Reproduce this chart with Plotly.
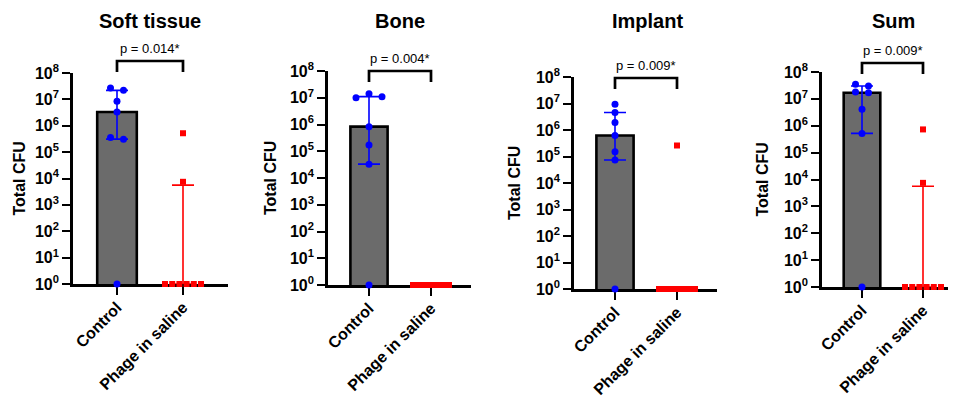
import numpy as np
import plotly.graph_objects as go

# ---------------- data ----------------
panel_titles = ["Soft tissue", "Bone", "Implant", "Sum"]
categories = ["Control", "Phage in saline"]
p_labels = ["p = 0.014*", "p = 0.004*", "p = 0.009*", "p = 0.009*"]
y_tickvals = [1, 1e1, 1e2, 1e3, 1e4, 1e5, 1e6, 1e7, 1e8]
y_ticktext = ["10<sup>%d</sup>" % i for i in range(9)]
y_title = "Total CFU"

soft_control = [2.7e7, 2.2e7, 8.5e6, 3.3e6, 3.6e5, 3.1e5, 1]
soft_phage = [5.2e5, 7.5e3, 1, 1, 1, 1, 1, 1]
bone_control = [1.4e7, 1.1e7, 1.0e7, 8.3e5, 1.7e5, 3.3e4, 1]
bone_phage = [1, 1, 1, 1, 1, 1, 1, 1]
implant_control = [9.3e6, 4.6e6, 1.9e6, 6.2e5, 1.5e5, 7.4e4, 1]
implant_phage = [2.6e5, 1, 1, 1, 1, 1, 1, 1, 1]
sum_control = [3.5e7, 3.0e7, 1.8e7, 1.7e7, 4.1e6, 5.2e5, 1]
sum_phage = [7.3e5, 7.5e3, 1, 1, 1, 1, 1, 1]

groups = [
    (soft_control, soft_phage),
    (bone_control, bone_phage),
    (implant_control, implant_phage),
    (sum_control, sum_phage),
]

# ---------------- layout (pixels, page coordinates) ----------------
PAGE_OFF = 8            # default body margin of the html page
W, H = 956 - PAGE_OFF, 398 - PAGE_OFF
panel_x = [(73, 228), (328, 471), (574, 717), (822, 956)]
panel_y = [(73, 284), (71, 285), (77, 289), (72, 287)]
cat_px = [(117, 183), (369, 431), (615, 677), (862, 923)]
title_px = [150, 400, 647, 893]
title_y = 21
ytitle_px = [19, 270, 515, 762]
bracket_px = [12, 0, -1, 9]   # bracket height above axis top (px)
leg_px = 11

FONT = "Liberation Sans, Arial, sans-serif"
colors = ["#0000ff", "#ff0000"]
symbols = ["circle", "square"]
msize = [7, 6]


def px2x(px):
    return (px - PAGE_OFF) / W


def px2y(py):
    return 1 - (py - PAGE_OFF) / H


def swarm(values, px_dec, px_cat):
    vals = np.asarray(values, dtype=float)
    lv = np.log10(vals)
    order = np.argsort(-lv, kind="stable")
    rows = []
    for i in order:
        if rows and (lv[rows[-1][0]] - lv[i]) * px_dec <= 5:
            rows[-1].append(i)
        else:
            rows.append([i])
    off = np.zeros(len(vals))
    for row in rows:
        k = len(row)
        if k == 1:
            continue
        step = min(13.0, 36.0 / (k - 1))
        slots = [(j - (k - 1) / 2) * step for j in range(k)]
        slots = sorted(slots, key=lambda o: (abs(o), -o if k % 2 else o))
        for idx, s in zip(row, slots):
            off[idx] = s / px_cat
    return off


fig = go.Figure()
layout = dict(
    width=W, height=H, margin=dict(l=0, r=0, t=0, b=0, autoexpand=False),
    paper_bgcolor="white", plot_bgcolor="white", showlegend=False,
    font=dict(family=FONT, color="black"),
)
shapes, annotations = [], []

for p in range(4):
    n = p + 1
    xa = "x" if n == 1 else "x%d" % n
    ya = "y" if n == 1 else "y%d" % n
    x0, x1 = panel_x[p]
    yt, yb = panel_y[p]
    c0, c1 = cat_px[p]
    px_cat = c1 - c0
    px_dec = (yb - yt) / 8.0
    rng = [(x0 - c0) / px_cat, (x1 - c0) / px_cat]

    stats = []
    for g in groups[p]:
        q1, med, q3 = np.percentile(np.asarray(g, float), [25, 50, 75], method="weibull")
        stats.append((q1, med, q3))

    # bars (median)
    fig.add_trace(go.Bar(
        x=[0, 1], y=[s[1] for s in stats], width=0.6,
        marker=dict(color="#6b6b6b", line=dict(color="black", width=[2.6, 0])),
        xaxis=xa, yaxis=ya, hoverinfo="skip",
    ))
    # error bars (interquartile range)
    for gi, (q1, med, q3) in enumerate(stats):
        fig.add_trace(go.Scatter(
            x=[gi], y=[med], mode="markers",
            marker=dict(size=1, color="rgba(0,0,0,0)"),
            error_y=dict(type="data", symmetric=False, array=[q3 - med],
                         arrayminus=[med - q1], color=colors[gi],
                         thickness=1.6, width=11),
            xaxis=xa, yaxis=ya, cliponaxis=False, hoverinfo="skip",
        ))
    # individual points
    for gi, g in enumerate(groups[p]):
        off = swarm(g, px_dec, px_cat)
        fig.add_trace(go.Scatter(
            x=gi + off, y=g, mode="markers",
            marker=dict(symbol=symbols[gi], size=msize[gi], color=colors[gi],
                        line=dict(width=0)),
            xaxis=xa, yaxis=ya, cliponaxis=False,
        ))

    dom_x = [px2x(x0), min(px2x(x1), 1.0)]
    dom_y = [px2y(yb), px2y(yt)]
    xkey = "xaxis" if n == 1 else "xaxis%d" % n
    ykey = "yaxis" if n == 1 else "yaxis%d" % n
    layout[xkey] = dict(
        domain=dom_x, range=rng, anchor=ya, showgrid=False, zeroline=False,
        showline=True, linecolor="black", linewidth=2.6,
        ticks="outside", ticklen=8, tickwidth=2.4, tickcolor="black",
        tickvals=[0, 1], ticktext=categories, tickangle=-45,
        tickfont=dict(family=FONT, size=16, weight="bold", color="black"),
        ticklabelstandoff=-3,
        layer="below traces", fixedrange=True, automargin=False,
    )
    layout[ykey] = dict(
        domain=dom_y, type="log", range=[0, 8], anchor=xa,
        showgrid=False, zeroline=False, showline=True, linecolor="black",
        linewidth=2.6, ticks="outside", ticklen=8, tickwidth=2.4,
        tickcolor="black", tickvals=y_tickvals, ticktext=y_ticktext,
        tickfont=dict(family=FONT, size=16, weight="bold", color="black"),
        ticklabelstandoff=0, layer="below traces", fixedrange=True,
        automargin=False,
    )

    # significance bracket
    yb_paper = px2y(yt - bracket_px[p])
    yl_paper = px2y(yt - bracket_px[p] + leg_px)
    shapes.append(dict(
        type="path", xref=xa, yref="paper",
        path="M 0,%f L 0,%f L 1,%f L 1,%f" % (yl_paper, yb_paper, yb_paper, yl_paper),
        line=dict(color="black", width=2.7),
    ))
    annotations.append(dict(
        text=p_labels[p], xref=xa, yref="paper", x=0.5, y=yb_paper,
        xanchor="center", yanchor="bottom", yshift=3, showarrow=False,
        font=dict(family=FONT, size=13, color="black"),
    ))
    # panel title
    annotations.append(dict(
        text=panel_titles[p], xref="paper", yref="paper",
        x=px2x(title_px[p]), y=px2y(title_y),
        xanchor="center", yanchor="middle", showarrow=False,
        font=dict(family=FONT, size=20, weight="bold", color="black"),
    ))
    # y-axis title
    annotations.append(dict(
        text=y_title, xref="paper", yref="paper",
        x=px2x(ytitle_px[p]), y=(dom_y[0] + dom_y[1]) / 2, textangle=-90,
        xanchor="center", yanchor="middle", showarrow=False,
        font=dict(family=FONT, size=16, weight="bold", color="black"),
    ))

layout["shapes"] = shapes
layout["annotations"] = annotations
fig.update_layout(**layout)
fig.write_html("out.html")
